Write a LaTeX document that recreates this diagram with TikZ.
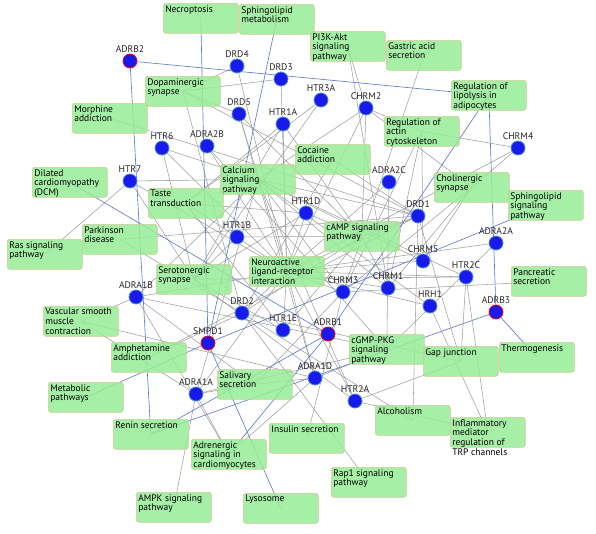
\documentclass[tikz,border=0pt]{standalone}
\usepackage{fontspec}
\setmainfont{PT Sans}
\usetikzlibrary{backgrounds}

\definecolor{boxfill}{RGB}{150,236,150}
\definecolor{boxline}{RGB}{214,200,150}
\definecolor{genefill}{RGB}{25,25,235}
\definecolor{generim}{RGB}{70,140,210}
\definecolor{linkgray}{RGB}{160,160,160}
\definecolor{linkblue}{RGB}{95,125,210}

% top-aligned text inside a pathway box
\newcommand{\pwtext}[1]{\parbox[t][26pt][t]{71pt}{\raggedright #1}}

\begin{document}
\begin{tikzpicture}[x=1pt,y=-1pt,
  pathway/.style={draw=boxline,fill=boxfill,fill opacity=0.85,text opacity=1,
    rounded corners=2.5pt,line width=0.6pt,inner sep=2pt,anchor=north west,
    font=\fontsize{9.5}{9.8}\selectfont},
  gene/.style={circle,fill=genefill,draw=generim,line width=0.8pt,
    minimum size=14pt,inner sep=0pt},
  hit/.style={gene,draw=red},
  glabel/.style={font=\fontsize{9.6}{10}\selectfont,inner sep=0.6pt,text=black!85},
  link/.style={draw=linkgray,line width=0.55pt},
  hitlink/.style={draw=linkblue,line width=0.65pt}]
  \useasboundingbox (0,0) rectangle (596,533);

  % genes
  \foreach \gname/\gtext/\gx/\gy/\gstyle in {
    adrb2/ADRB2/130/61/hit, drd4/DRD4/237/66/gene, drd3/DRD3/281/79/gene,
    drd5/DRD5/239/114/gene, htr1a/HTR1A/283/124/gene, htr3a/HTR3A/321/100/gene,
    chrm2/CHRM2/366/108/gene, htr6/HTR6/162/148/gene, adra2b/ADRA2B/207/146/gene,
    htr7/HTR7/130/181/gene, chrm4/CHRM4/518/148/gene, adra2c/ADRA2C/389/182/gene,
    htr1d/HTR1D/306/213/gene, drd1/DRD1/418/216/gene, htr1b/HTR1B/237/237/gene,
    adra2a/ADRA2A/496/243/gene, chrm5/CHRM5/423/261/gene, htr2c/HTR2C/466/277/gene,
    chrm3/CHRM3/343/292/gene, chrm1/CHRM1/388/288/gene, hrh1/HRH1/430/306/gene,
    adrb3/ADRB3/496/312/hit, adra1b/ADRA1B/136/297/gene, drd2/DRD2/242/313/gene,
    htr1e/HTR1E/283/330/gene, smpd1/SMPD1/208/343/hit, adrb1/ADRB1/328/334/hit,
    adra1a/ADRA1A/196/394/gene, adra1d/ADRA1D/315/378/gene, htr2a/HTR2A/355/401/gene}
    \node[\gstyle,label={[glabel]above:\gtext}] (\gname) at (\gx,\gy) {};

  % pathways
  \node[pathway] (necro) at (163,3) {\pwtext{Necroptosis}};
  \node[pathway] (sphmet) at (239,4) {\pwtext{Sphingolipid\\metabolism}};
  \node[pathway] (pi3k) at (310,31) {\pwtext{PI3K-Akt\\signaling\\pathway}};
  \node[pathway] (gastric) at (386,40) {\pwtext{Gastric acid\\secretion}};
  \node[pathway] (dopa) at (145,76) {\pwtext{Dopaminergic\\synapse}};
  \node[pathway] (lipo) at (451,80) {\pwtext{Regulation of\\lipolysis in\\adipocytes}};
  \node[pathway] (morph) at (72,103) {\pwtext{Morphine\\addiction}};
  \node[pathway] (actin) at (384,116) {\pwtext{Regulation of\\actin\\cytoskeleton}};
  \node[pathway] (cocaine) at (295,144) {\pwtext{Cocaine\\addiction}};
  \node[pathway] (calcium) at (220,164) {\pwtext{Calcium\\signaling\\pathway}};
  \node[pathway] (dcm) at (32,167) {\pwtext{Dilated\\cardiomyopathy\\(DCM)}};
  \node[pathway] (taste) at (148,188) {\pwtext{Taste\\transduction}};
  \node[pathway] (cholin) at (434,172) {\pwtext{Cholinergic\\synapse}};
  \node[pathway] (sphsig) at (508,190) {\pwtext{Sphingolipid\\signaling\\pathway}};
  \node[pathway] (camp) at (324,221) {\pwtext{cAMP signaling\\pathway}};
  \node[pathway] (parkin) at (82,224) {\pwtext{Parkinson\\disease}};
  \node[pathway] (ras) at (7,239) {\pwtext{Ras signaling\\pathway}};
  \node[pathway] (neuro) at (249,256) {\pwtext{Neuroactive\\ligand-receptor\\interaction}};
  \node[pathway] (sero) at (156,264) {\pwtext{Serotonergic\\synapse}};
  \node[pathway] (pancr) at (511,266) {\pwtext{Pancreatic\\secretion}};
  \node[pathway] (vsmc) at (43,306) {\pwtext{Vascular smooth\\muscle\\contraction}};
  \node[pathway] (amph) at (111,342) {\pwtext{Amphetamine\\addiction}};
  \node[pathway] (cgmp) at (349,334) {\pwtext{cGMP-PKG\\signaling\\pathway}};
  \node[pathway] (gapj) at (423,346) {\pwtext{Gap junction}};
  \node[pathway] (thermo) at (499,342) {\pwtext{Thermogenesis}};
  \node[pathway] (saliv) at (217,369) {\pwtext{Salivary\\secretion}};
  \node[pathway] (metab) at (48,382) {\pwtext{Metabolic\\pathways}};
  \node[pathway] (renin) at (113,419) {\pwtext{Renin secretion}};
  \node[pathway] (alcoh) at (375,405) {\pwtext{Alcoholism}};
  \node[pathway] (trp) at (450,417) {\pwtext{Inflammatory\\mediator\\regulation of\\TRP channels}};
  \node[pathway] (adren) at (191,439) {\pwtext{Adrenergic\\signaling in\\cardiomyocytes}};
  \node[pathway] (insul) at (269,423) {\pwtext{Insulin secretion}};
  \node[pathway] (rap1) at (331,467) {\pwtext{Rap1 signaling\\pathway}};
  \node[pathway] (ampk) at (136,492) {\pwtext{AMPK signaling\\pathway}};
  \node[pathway] (lyso) at (243,493) {\pwtext{Lysosome}};

  \begin{scope}[on background layer]
    \foreach \pw/\gn in {
      neuro/drd1, neuro/drd2, neuro/drd3, neuro/drd4, neuro/drd5, neuro/htr1a,
      neuro/htr1b, neuro/htr1d, neuro/htr1e, neuro/htr2a, neuro/htr2c, neuro/htr6,
      neuro/htr7, neuro/chrm1, neuro/chrm2, neuro/chrm3, neuro/chrm4, neuro/chrm5,
      neuro/adra1a, neuro/adra1b, neuro/adra1d, neuro/adra2a, neuro/adra2b,
      neuro/adra2c, neuro/hrh1,
      calcium/adra1a, calcium/adra1b, calcium/adra1d, calcium/chrm1, calcium/chrm2,
      calcium/chrm3, calcium/chrm5, calcium/drd1, calcium/drd5, calcium/htr2a,
      calcium/htr2c, calcium/htr6, calcium/htr7, calcium/hrh1,
      camp/drd1, camp/drd2, camp/drd5, camp/htr1a, camp/htr1b, camp/htr1d,
      camp/htr1e, camp/chrm1, camp/chrm2,
      sero/htr1a, sero/htr1b, sero/htr1d, sero/htr1e, sero/htr2a, sero/htr2c,
      sero/htr3a, sero/htr6, sero/htr7,
      dopa/drd1, dopa/drd2, dopa/drd3, dopa/drd4, dopa/drd5,
      cholin/chrm1, cholin/chrm2, cholin/chrm3, cholin/chrm4, cholin/chrm5,
      actin/chrm1, actin/chrm2, actin/chrm3, actin/chrm4, actin/chrm5,
      cgmp/adra1a, cgmp/adra1b, cgmp/adra1d, cgmp/adra2a, cgmp/adra2b, cgmp/adra2c,
      taste/htr1a, taste/htr1b, taste/htr1d, taste/htr1e, taste/htr3a,
      gapj/drd1, gapj/drd2, gapj/htr2a, gapj/htr2c,
      saliv/adra1a, saliv/adra1b, saliv/adra1d, saliv/chrm3,
      vsmc/adra1a, vsmc/adra1b, vsmc/adra1d,
      adren/adra1a, adren/adra1b, adren/adra1d,
      cocaine/drd1, cocaine/drd2, amph/drd1, amph/drd2, parkin/drd1, parkin/drd2,
      alcoh/drd1, alcoh/drd2, trp/htr2a, trp/htr2c, trp/hrh1,
      pi3k/chrm1, pi3k/chrm2, gastric/chrm3, pancr/chrm3, insul/chrm3,
      morph/drd1, ras/htr7, rap1/drd2, ampk/adra1a}
      \draw[link] (\pw.center) -- (\gn);
    \foreach \pw/\gn in {
      lipo/adrb2, renin/adrb2, necro/smpd1, sphmet/smpd1, sphsig/smpd1,
      metab/smpd1, lyso/smpd1, lipo/adrb1, dcm/adrb1, renin/adrb1, adren/adrb1,
      lipo/adrb3, thermo/adrb3, renin/adrb3}
      \draw[hitlink] (\pw.center) -- (\gn);
  \end{scope}
\end{tikzpicture}
\end{document}
